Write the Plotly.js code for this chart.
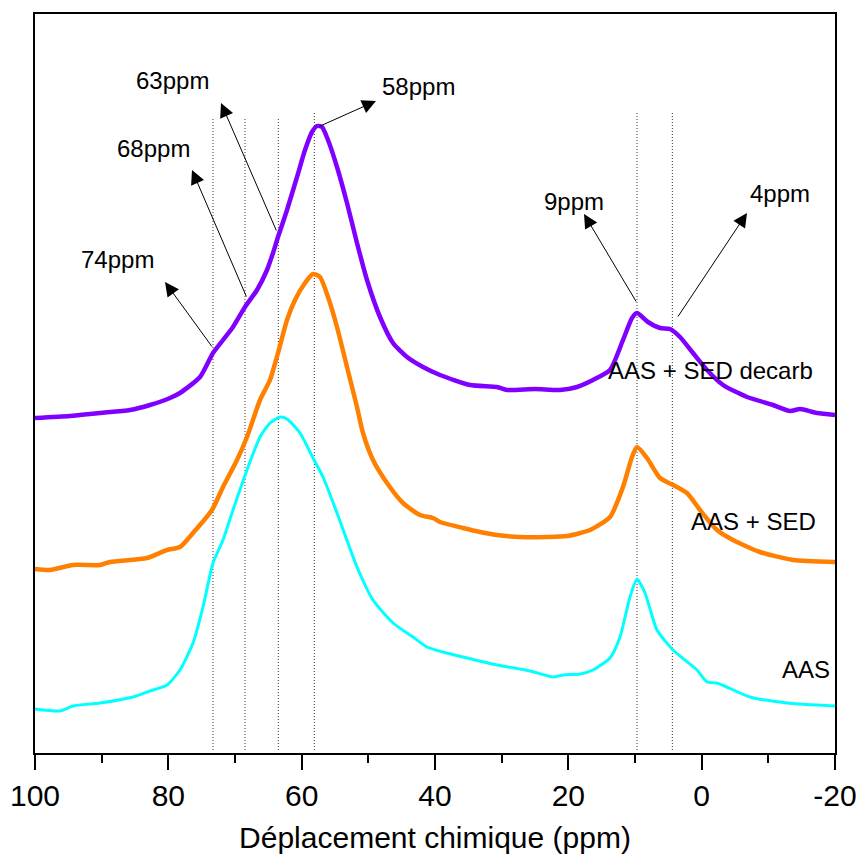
<!DOCTYPE html>
<html>
<head>
<meta charset="utf-8">
<script src="https://cdn.plot.ly/plotly-3.0.1.min.js"></script>
<style>html,body{margin:0;padding:0;background:#fff}#chart{width:858px;height:861px}</style>
</head>
<body>
<div id="chart"></div>
<script>
// Chemical shift (ppm) and intensity (arbitrary units, stacked offsets)
const ppmDecarb = [100,94.75,90.25,85.75,82.75,79.75,78.25,75.25,73.3,71.8,70.3,68.5,66.7,65.2,64.3,63.55,62.2,60.7,59.5,58.45,57.7,56.95,56.05,54.7,53.2,51.7,50.2,48.25,46.3,44.2,41.8,39.25,34.75,30.7,29.2,25,21.25,18.7,16.3,13.75,11.8,10.45,9.7,8.05,6.25,4.75,3.25,1.3,-0.8,-3.2,-6.8,-10.7,-13.25,-14.75,-17.3,-20];
const intDecarb = [335,337,340,343,348,355,360,376,400,413,426,446,463,483,500,516,543,576,603,621,627,626,613,586,550,510,473,436,410,396,386,378,368,366,363,364,363,366,373,383,413,435,440,431,425,424,416,400,383,368,356,348,342,344,340,338];

const ppmSed = [100,97.75,94.3,90.25,88.75,83.2,80.2,78.25,76.3,73.45,71.8,69.7,68.2,66.25,64.75,63.55,62.2,61,59.5,58.3,57.25,56.05,54.7,53.2,51.7,50.8,49.3,47.2,44.8,42.25,40.3,39.25,35.8,33.25,30.7,27.25,23.2,20.2,16.75,13.75,11.8,10.45,9.7,8.2,6.25,4.3,2.2,0.25,-2.3,-4.7,-8.75,-13.7,-20];
const intSed = [184,183,188,188,191,195,203,206,220,243,266,293,316,353,373,400,433,453,470,479,476,456,426,386,346,320,293,270,250,238,235,231,225,221,218,216,216,217,223,236,266,296,306,295,275,268,260,243,223,213,201,193,191];

const ppmAas = [100,96.25,94.3,90.25,85.3,82.3,80.2,78.25,76.3,74.8,73.3,71.8,70.3,68.2,66.25,64.75,63.25,62.2,60.25,58.3,56.8,54.7,51.7,49.3,46.3,43.3,41.2,38.8,35.8,30.7,25.75,22.3,20.8,18.25,16.3,13.75,12.25,10.75,9.7,8.5,6.7,4.3,0.7,-0.8,-2.3,-7.25,-12.8,-20];
const intAas = [44,42,47,50,56,63,68,83,110,146,190,213,243,283,316,330,336,334,320,295,276,240,186,153,130,116,106,101,96,88,82,76,78,79,83,95,116,156,174,160,123,103,83,71,70,56,50,47];

const seriesNames = ["AAS + SED decarb","AAS + SED","AAS"];
const xTickVals = [100,80,60,40,20,0,-20];
const xTickText = ["100","80","60","40","20","0","-20"];
const xTitle = "Déplacement chimique (ppm)";

// Peak markers (ppm) and their labels
const peakLines = [73.3,68.5,63.5,58.1,9.7,4.4];
const peakLineTop = [635,635,635,640,640,640];
const peakLabels = ["74ppm","68ppm","63ppm","58ppm","9ppm","4ppm"];
const labelX = [87.7,82.3,79.45,42.55,19.15,-11.75];
const labelY = [494,605,673,667,552,560];
const arrowTailX = [73.3,68.2,63.7,57.55,9.7,3.7];
const arrowTailY = [405,455,521,626,450,435];
const arrowHeadX = [80.5,76.45,72.1,48.85,17.65,-6.8];
const arrowHeadY = [471,583,650,652,539,540];
const nameX = [-1.25,-7.7,-15.65];
const nameY = [383,232,84];

const FONT = "Liberation Sans, Arial, Helvetica, sans-serif";

const traces = [
  {x: ppmAas, y: intAas, name: seriesNames[2], mode: "lines", line: {color: "#00FFFF", width: 3, shape: "spline", smoothing: 0.6}},
  {x: ppmSed, y: intSed, name: seriesNames[1], mode: "lines", line: {color: "#FF8000", width: 4.5, shape: "spline", smoothing: 0.6}},
  {x: ppmDecarb, y: intDecarb, name: seriesNames[0], mode: "lines", line: {color: "#8000FF", width: 4.5, shape: "spline", smoothing: 0.6}}
];

const shapes = peakLines.map((p, i) => ({
  type: "line", xref: "x", yref: "y", x0: p, x1: p, y0: 3, y1: peakLineTop[i],
  line: {color: "#333", width: 1, dash: "1px,2px"}, layer: "below"
}));

const annotations = [];
peakLabels.forEach((t, i) => {
  annotations.push({x: labelX[i], y: labelY[i], xref: "x", yref: "y", text: t, showarrow: false,
    font: {family: FONT, size: 24, color: "#000"}, xanchor: "center", yanchor: "middle"});
  annotations.push({x: arrowHeadX[i], y: arrowHeadY[i], xref: "x", yref: "y",
    ax: arrowTailX[i], ay: arrowTailY[i], axref: "x", ayref: "y", text: "", showarrow: true,
    arrowhead: 2, arrowsize: 2.8, arrowwidth: 1, arrowcolor: "#000", standoff: 0, startstandoff: 0});
});
seriesNames.forEach((t, i) => {
  annotations.push({x: nameX[i], y: nameY[i], xref: "x", yref: "y", text: t, showarrow: false,
    font: {family: FONT, size: 24, color: "#000"}, xanchor: "center", yanchor: "middle"});
});

const layout = {
  width: 858, height: 861,
  margin: {l: 35, r: 23, t: 14, b: 108},
  paper_bgcolor: "#fff", plot_bgcolor: "#fff",
  showlegend: false,
  font: {family: FONT, color: "#000"},
  xaxis: {
    range: [100, -20], tickvals: xTickVals, ticktext: xTickText,
    ticks: "outside", ticklen: 15, tickwidth: 2, tickcolor: "#000",
    minor: {dtick: 10, tick0: 0, ticks: "outside", ticklen: 8, tickwidth: 2, tickcolor: "#000"},
    showline: true, linewidth: 2, linecolor: "#000", mirror: true,
    showgrid: false, zeroline: false,
    tickfont: {family: FONT, size: 30, color: "#000"},
    title: {text: xTitle, font: {family: FONT, size: 30, color: "#000"}, standoff: 16}
  },
  yaxis: {
    range: [0, 739], showticklabels: false, ticks: "",
    showline: true, linewidth: 2, linecolor: "#000", mirror: true,
    showgrid: false, zeroline: false
  },
  shapes: shapes,
  annotations: annotations
};

Plotly.newPlot("chart", traces, layout, {staticPlot: true});
</script>
</body>
</html>
